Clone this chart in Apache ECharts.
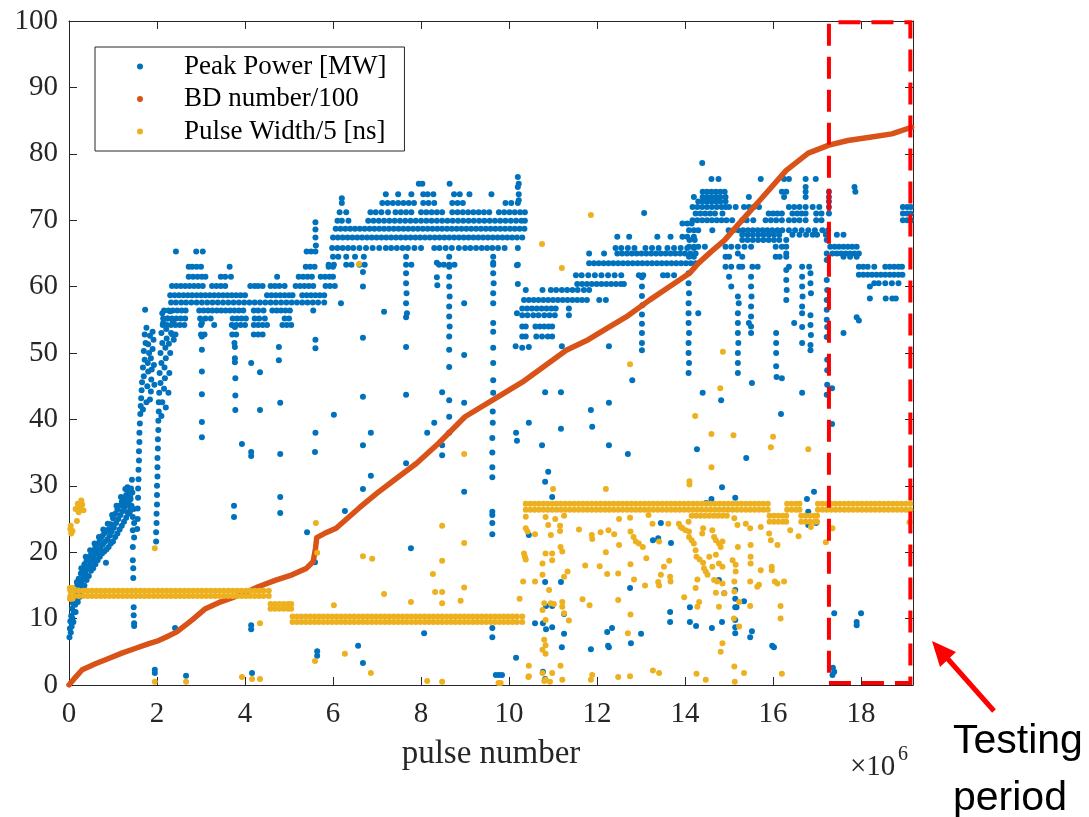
<!DOCTYPE html>
<html>
<head>
<meta charset="utf-8">
<script src="https://cdn.jsdelivr.net/npm/echarts@6/dist/echarts.min.js"></script>
<style>
html,body{margin:0;padding:0;background:#fff;}
#chart{width:1089px;height:817px;}
</style>
</head>
<body>
<div id="chart"></div>
<script>
// x values are pulse numbers in units of 10^6

// Peak power [MW], dense horizontal rows: [level, x, x, ...]
const powerRows = [
  [65.3, 2.43, 2.89, 3.04, 5.4, 5.5, 5.6],
  [63.0, 2.72, 2.8, 2.9, 3.0, 3.65, 5.38, 5.48, 5.58, 5.9, 6.0],
  [61.5, 2.72, 2.82, 2.92, 3.02, 3.1, 3.45, 3.55, 3.68, 4.73, 5.22, 5.32, 5.42, 5.52, 5.72, 5.82, 5.92, 6.0],
  [60.1, 2.34, 2.44, 2.54, 2.64, 2.74, 2.84, 2.94, 3.04, 3.25, 3.35, 3.45, 3.55, 4.12, 4.22, 4.3, 4.4, 4.58, 4.68, 4.78, 4.9, 5.15, 5.25, 5.35, 5.45, 5.55, 5.83, 5.93, 6.04],
  [58.7, 2.3, 2.4, 2.5, 2.6, 2.7, 2.8, 2.9, 3.0, 3.1, 3.2, 3.3, 3.4, 3.5, 3.6, 3.7, 3.8, 3.9, 4.0, 4.5, 4.6, 4.7, 4.8, 4.9, 5.0, 5.08, 5.3, 5.4, 5.5, 5.6, 5.7, 5.8],
  [57.6, 2.32, 2.43, 2.55, 2.66, 2.78, 2.9, 3.02, 3.14, 3.26, 3.38, 3.5, 3.62, 3.74, 3.86, 3.98, 4.1, 4.22, 4.34, 4.46, 4.58, 4.7, 4.82, 4.94, 5.06, 5.18, 5.3, 5.42, 5.54, 5.66, 5.8],
  [56.4, 2.16, 2.26, 2.36, 2.46, 2.56, 2.65, 2.96, 3.06, 3.16, 3.26, 3.36, 3.46, 3.56, 3.66, 3.76, 3.86, 3.96, 4.2, 4.3, 4.42, 4.62, 4.72, 4.82, 4.92, 5.02, 5.55],
  [55.2, 2.14, 2.24, 2.34, 2.44, 2.54, 2.64, 2.98, 3.1, 3.22, 3.72, 3.82, 3.92, 4.02, 4.22, 4.32, 4.45, 4.9, 5.0],
  [54.2, 2.13, 2.22, 2.32, 2.42, 2.52, 2.62, 3.0, 3.3, 3.7, 3.8, 3.9, 4.0, 4.2, 4.3, 4.4, 4.5, 4.85, 4.95, 5.05],
  [52.8, 2.35, 2.42, 3.0, 3.08, 3.71, 3.8, 4.2, 4.3, 4.4],

  [75.5, 7.95, 8.03, 8.65, 10.22],
  [73.9, 7.2, 7.48, 7.78, 8.05, 8.15, 8.28, 8.75, 8.88, 9.1, 9.6, 10.22],
  [72.6, 6.2, 7.12, 7.24, 7.36, 7.48, 7.6, 7.72, 7.84, 8.05, 8.17, 8.3, 8.71, 8.83, 8.95, 9.92, 10.05, 10.2],
  [71.2, 6.15, 6.3, 6.85, 6.97, 7.1, 7.25, 7.42, 7.54, 7.66, 7.78, 8.0, 8.12, 8.24, 8.36, 8.48, 8.71, 8.83, 8.95, 9.07, 9.19, 9.31, 9.43, 9.55, 9.77, 9.89, 10.01, 10.13, 10.25, 10.36],
  [69.9, 6.1, 6.2, 6.35, 6.8, 6.92, 7.04, 7.16, 7.28, 7.4, 7.52, 7.64, 7.76, 7.88, 8.0, 8.12, 8.24, 8.36, 8.48, 8.6, 8.72, 8.84, 8.96, 9.08, 9.2, 9.32, 9.44, 9.56, 9.68, 9.8, 9.92, 10.04, 10.16, 10.28, 10.36],
  [68.7, 6.06, 6.17, 6.28, 6.39, 6.5, 6.61, 6.72, 6.83, 6.94, 7.05, 7.16, 7.27, 7.38, 7.49, 7.6, 7.71, 7.82, 7.93, 8.04, 8.15, 8.26, 8.37, 8.48, 8.59, 8.7, 8.81, 8.92, 9.03, 9.14, 9.25, 9.36, 9.47, 9.58, 9.69, 9.8, 9.91, 10.02, 10.13, 10.24, 10.35],
  [67.4, 6.0, 6.11, 6.22, 6.33, 6.44, 6.55, 6.66, 6.77, 6.88, 6.99, 7.1, 7.21, 7.32, 7.43, 7.54, 7.65, 7.76, 7.87, 7.98, 8.09, 8.2, 8.31, 8.42, 8.53, 8.64, 8.75, 8.86, 8.97, 9.08, 9.19, 9.3, 9.41, 9.52, 9.63, 9.74, 9.85, 9.96, 10.07, 10.18, 10.3],
  [65.8, 5.98, 6.1, 6.22, 6.34, 6.46, 6.6, 6.75, 6.9, 7.05, 7.2, 7.32, 7.45, 7.58, 7.7, 7.85, 8.0, 8.3, 8.42, 8.56, 8.7, 8.86, 9.0, 9.12, 9.25, 9.38, 9.5, 9.62, 9.75, 9.9, 10.2],
  [64.5, 6.0, 6.12, 6.3, 6.5, 6.7, 7.66, 8.64, 9.64],
  [63.3, 5.9, 6.02, 6.3, 6.42, 6.6, 6.72, 7.66, 7.78, 8.41, 8.52, 8.64, 8.76, 9.64, 10.2],

  [69.5, 13.94, 14.05, 14.15],
  [67.5, 12.46, 12.73, 13.37, 13.67, 13.94, 14.05, 14.2],
  [65.8, 12.42, 12.55, 12.7, 12.85, 13.1, 13.25, 13.4, 13.6, 13.75, 13.9, 14.05, 14.2],
  [65.0, 11.82, 12.16, 12.46, 12.57, 12.68, 12.79, 12.9, 13.01, 13.12, 13.23, 13.34, 13.45, 13.56, 13.67, 13.78, 13.89, 14.0, 14.12, 14.24],
  [63.5, 11.82, 11.93, 12.04, 12.15, 12.26, 12.37, 12.48, 12.59, 12.7, 12.81, 12.92, 13.03, 13.14, 13.25, 13.36, 13.47, 13.58, 13.69, 13.8, 13.91, 14.02, 14.13, 14.24],
  [61.7, 11.52, 11.65, 11.8, 11.95, 12.1, 12.25, 12.4, 12.55, 12.95, 13.05, 13.5, 13.6, 13.75],
  [60.4, 10.2, 11.55, 11.66, 11.77, 11.88, 11.99, 12.1, 12.21, 12.32, 12.43, 12.54, 12.61],
  [59.5, 10.38, 10.76, 10.95, 11.07, 11.2, 11.32, 11.44, 11.56, 11.7, 11.82],
  [58.0, 10.34, 10.45, 10.56, 10.67, 10.78, 10.89, 11.0, 11.11, 11.22, 11.33, 11.44, 11.55, 11.66, 11.77, 12.05, 12.2],
  [56.7, 10.3, 10.41, 10.52, 10.63, 10.74, 10.85, 10.96, 11.06, 11.36],
  [55.7, 10.3, 10.42, 10.55, 10.67, 10.8, 10.92, 11.04, 11.36],
  [54.0, 10.3, 10.38, 10.6, 10.7, 10.8, 10.9, 10.98],
  [52.5, 10.3, 10.38, 10.62, 10.75, 10.88, 10.98],

  [78.6, 14.39],
  [76.2, 14.6, 14.76, 15.72, 16.25, 16.36, 16.74, 16.97],
  [75.0, 16.74, 17.85],
  [74.3, 14.4, 14.5, 14.6, 14.7, 14.8, 14.9, 16.2, 16.3, 16.74, 17.27, 17.87],
  [73.5, 14.2, 14.4, 14.5, 14.6, 14.7, 14.8, 14.92, 15.45, 16.25, 16.74, 17.27],
  [72.8, 14.3, 14.4, 14.5, 14.6, 14.7, 14.8, 14.92, 17.27],
  [72.0, 14.17, 14.28, 14.39, 14.5, 14.61, 14.72, 14.83, 14.92, 15.0, 15.15, 15.34, 15.45, 15.56, 15.68, 16.36, 16.48, 16.6, 16.74, 16.9, 17.05, 17.27, 18.95, 19.05, 19.13],
  [71.0, 14.24, 14.35, 14.46, 14.57, 14.68, 14.85, 15.9, 16.0, 16.1, 16.2, 16.44, 16.55, 16.65, 16.74, 16.98, 17.1, 17.27, 18.95, 19.05, 19.13],
  [70.0, 14.17, 14.28, 14.39, 14.5, 14.61, 14.72, 14.83, 14.94, 15.07, 15.3, 15.4, 15.55, 15.83, 15.95, 16.07, 16.2, 16.36, 16.48, 16.6, 16.74, 16.98, 17.1, 18.95, 19.05, 19.13],
  [68.5, 14.09, 14.2, 14.3, 14.62, 14.99, 15.1, 15.21, 15.32, 15.43, 15.54, 15.65, 15.76, 15.87, 15.98, 16.1, 16.21, 16.36, 16.5, 16.65, 16.8, 16.95, 17.12, 17.25],
  [67.8, 15.3, 15.42, 15.54, 15.66, 15.78, 15.9, 16.02, 16.14, 16.44, 16.6, 16.75, 16.9, 17.0, 17.2, 17.45, 17.6],
  [67.0, 14.1, 14.22, 15.3, 15.42, 15.54, 15.66, 15.78, 15.9, 16.02, 16.14, 16.3, 17.22],
  [66.0, 14.09, 14.2, 14.3, 14.45, 14.92, 15.05, 15.2, 15.35, 15.5, 16.06, 16.2, 16.3, 17.3, 17.4, 17.5, 17.6, 17.7, 17.8, 17.9],
  [65.0, 15.2, 16.3, 17.22, 17.35, 17.45, 17.55, 17.65, 17.75, 17.85, 17.95],
  [64.5, 14.09, 14.2, 14.92, 15.0, 15.3, 16.06, 16.15, 16.3, 17.6, 17.75, 17.9],
  [63.0, 14.92, 15.05, 15.23, 15.3, 15.53, 15.65, 16.36, 16.66, 16.82, 17.95, 18.05, 18.15, 18.3, 18.55, 18.65, 18.75, 18.85, 18.93],
  [61.8, 17.95, 18.05, 18.15, 18.25, 18.35, 18.45, 18.55, 18.65, 18.75, 18.85, 18.94],
  [60.5, 18.3, 18.4, 18.55, 18.7, 18.85],
  [58.2, 18.2, 18.56, 18.71, 18.79]
];

// Peak power [MW], conditioning ramp at the start: [x, y]
const powerRamp = [
  [0.01, 7.2], [0.02, 8.5], [0.03, 9.6], [0.04, 7.9], [0.05, 10.4], [0.06, 8.8], [0.07, 11.5], [0.08, 10.0], [0.09, 12.3],
  [0.11, 10.9], [0.12, 13.2], [0.14, 12.1], [0.15, 14.0], [0.17, 13.0], [0.19, 15.1], [0.2, 14.2], [0.22, 16.0], [0.23, 13.8],
  [0.25, 15.1], [0.27, 16.8], [0.29, 15.7], [0.3, 14.6], [0.31, 17.5], [0.33, 16.4], [0.35, 18.2], [0.37, 17.0], [0.4, 18.7], [0.4, 15.8], [0.42, 17.6], [0.44, 19.2],
  [0.47, 18.0], [0.5, 19.6], [0.5, 17.2], [0.52, 18.6], [0.55, 20.2], [0.57, 19.1], [0.6, 20.7], [0.6, 18.2], [0.62, 19.8], [0.65, 21.3], [0.67, 20.3],
  [0.7, 21.9], [0.7, 19.3], [0.72, 20.6], [0.75, 22.4], [0.77, 21.2], [0.8, 22.8], [0.8, 20.1], [0.82, 21.6], [0.84, 18.4], [0.85, 23.2], [0.88, 22.0], [0.9, 23.4], [0.9, 20.8],
  [0.93, 22.5], [0.95, 24.2], [0.97, 23.1], [1.0, 25.1], [1.0, 21.6], [1.02, 23.7], [1.05, 25.8], [1.07, 24.4], [1.1, 26.4], [1.1, 22.8], [1.12, 25.0],
  [1.15, 27.0], [1.17, 25.6], [1.2, 27.6], [1.2, 24.0], [1.22, 26.2], [1.25, 28.2], [1.25, 27.0], [1.27, 26.8], [1.3, 28.6], [1.3, 25.2], [1.3, 27.8], [1.32, 27.2],
  [1.33, 26.0], [1.35, 28.9], [1.36, 29.2], [1.37, 27.8], [1.38, 26.0], [1.39, 28.4], [1.4, 28.0], [1.42, 27.0], [1.43, 30.9], [1.44, 29.0],
  [0.1, 9.5], [0.1, 12.8], [0.15, 11.0], [0.18, 15.5], [0.2, 12.5], [0.25, 13.3], [0.28, 17.6], [0.35, 15.0], [0.38, 19.3], [0.45, 16.4], [0.48, 20.3],
  [0.55, 17.6], [0.58, 21.3], [0.65, 18.8], [0.68, 22.3], [0.75, 19.8], [0.78, 23.4], [0.85, 20.4], [0.88, 24.3], [0.95, 21.3], [0.98, 25.6],
  [1.05, 22.3], [1.08, 27.0], [1.15, 23.4], [1.18, 28.3], [1.25, 24.6], [1.28, 29.5], [1.35, 25.8], [1.4, 26.5], [1.33, 29.8], [1.41, 29.6]
];

// Peak power [MW], vertical streaks and isolated pulses: [x, y]
const powerDots = [
  [1.45, 25.3], [1.45, 23.3], [1.45, 20.8], [1.45, 18.8], [1.46, 17.6], [1.46, 16.1], [1.47, 11.7], [1.47, 10.5], [1.48, 9.3], [1.48, 8.9], [1.47, 26.5], [1.48, 24.4], [1.48, 22.2],
  [1.55, 23.5], [1.56, 25.0], [1.56, 26.6], [1.57, 28.2], [1.57, 29.6], [1.58, 31.0], [1.58, 32.4], [1.59, 33.8], [1.59, 35.2], [1.6, 36.6], [1.6, 38.0], [1.61, 39.4], [1.62, 40.8], [1.63, 42.0], [1.64, 43.2], [1.65, 44.4], [1.66, 45.6],
  [1.7, 46.5], [1.68, 47.8], [1.72, 49.0], [1.7, 50.3], [1.74, 51.5], [1.72, 52.8], [1.76, 53.8], [1.78, 45.0], [1.8, 47.2], [1.79, 48.5], [1.82, 50.0], [1.8, 51.3], [1.84, 52.6],
  [1.86, 44.2], [1.87, 46.0], [1.88, 47.5], [1.86, 49.2], [1.9, 50.6], [1.92, 52.0], [1.9, 53.2], [1.93, 48.2], [1.94, 45.2], [1.73, 56.5], [1.84, 43.0], [1.76, 42.6], [1.68, 41.5],
  [1.98, 21.6], [1.98, 23.0], [1.99, 24.4], [1.99, 25.8], [2.0, 27.2], [2.0, 28.6], [2.0, 30.0], [2.01, 31.4], [2.01, 32.8], [2.01, 34.2], [2.02, 35.6], [2.02, 37.0], [2.03, 38.4], [2.03, 39.8], [2.04, 41.2], [2.04, 42.6],
  [2.05, 44.0], [2.08, 45.5], [2.06, 47.0], [2.1, 48.5], [2.08, 50.0], [2.12, 51.5], [2.1, 53.0], [2.14, 54.5], [2.12, 56.0], [2.16, 44.6], [2.18, 46.2], [2.17, 47.8], [2.2, 49.2],
  [2.19, 50.8], [2.22, 52.2], [2.21, 53.6], [2.24, 55.2], [2.26, 44.0], [2.28, 47.0], [2.3, 50.0], [2.27, 51.4], [2.32, 53.0], [2.3, 56.3], [2.36, 54.8], [2.38, 52.0], [2.12, 42.6], [2.2, 41.8], [2.1, 40.5],
  [3.02, 54.5], [3.02, 52.5], [3.02, 50.5], [3.02, 47.2], [3.02, 43.8], [3.02, 39.6], [3.02, 37.3],
  [3.77, 53.9], [3.76, 51.5], [3.77, 50.9], [3.77, 49.2], [3.77, 48.6], [3.78, 46.2], [3.78, 43.6], [3.78, 41.4], [3.75, 27.0], [3.75, 25.3],
  [4.14, 48.5], [4.34, 47.1], [4.34, 41.4], [4.77, 50.9], [4.77, 48.9], [4.8, 42.5], [4.8, 34.8], [4.8, 28.3], [4.8, 25.9], [3.93, 36.3], [4.14, 35.1], [4.14, 34.5],
  [4.14, 9.0], [4.14, 8.4], [4.16, 1.8], [2.41, 8.6], [1.95, 2.3], [1.95, 1.8], [2.66, 1.4],
  [5.6, 69.7], [5.6, 68.6], [5.6, 67.4], [5.61, 66.2], [5.6, 52.0], [5.6, 50.7], [5.6, 38.0], [5.59, 35.1], [5.41, 23.0], [5.59, 18.5], [5.64, 5.1], [5.64, 4.4],
  [6.2, 73.3], [6.02, 40.7], [6.18, 57.5], [6.27, 26.2],
  [6.68, 62.2], [6.68, 60.0], [6.68, 52.3], [6.68, 43.4], [6.68, 36.1], [6.68, 29.5], [6.68, 3.3], [6.57, 5.9], [6.86, 38.0], [6.86, 31.5],
  [7.66, 62.0], [7.66, 60.5], [7.67, 59.0], [7.66, 57.5], [7.68, 56.0], [7.66, 55.4], [7.66, 50.9], [7.66, 43.7], [7.66, 33.4], [7.16, 56.2], [7.77, 20.6], [8.07, 7.8],
  [8.36, 63.6], [8.36, 61.4], [8.37, 60.2], [8.14, 38.0], [8.3, 39.5], [8.48, 44.1], [8.48, 36.1], [8.48, 34.6],
  [8.64, 63.0], [8.64, 61.5], [8.64, 60.0], [8.65, 58.5], [8.64, 57.0], [8.64, 55.5], [8.65, 54.0], [8.64, 52.5], [8.64, 50.5], [8.64, 47.9], [8.64, 42.9], [8.64, 40.4], [8.64, 38.0],
  [8.98, 57.5], [8.98, 49.7], [8.98, 42.5], [8.98, 29.1],
  [9.64, 63.6], [9.64, 62.0], [9.65, 60.5], [9.64, 59.0], [9.64, 57.5], [9.64, 54.5], [9.64, 53.2], [9.64, 50.8], [9.64, 48.5], [9.64, 45.9], [9.64, 44.0], [9.63, 41.2],
  [9.63, 39.5], [9.62, 37.2], [9.62, 35.0], [9.62, 32.8], [9.62, 31.3], [9.62, 26.1], [9.62, 25.6], [9.62, 24.4], [9.62, 22.7], [9.62, 8.6], [9.62, 7.2],
  [10.2, 76.5], [10.2, 75.0], [10.22, 73.0], [10.18, 63.2], [10.18, 56.0], [10.15, 51.0], [10.16, 38.0], [10.18, 36.8], [10.16, 4.1],
  [9.7, 1.5], [9.77, 1.5], [9.84, 1.5],
  [10.45, 50.9], [10.3, 50.8], [11.18, 44.1], [10.82, 44.1], [10.45, 39.5], [10.75, 36.1], [11.18, 38.6], [10.89, 32.1], [10.82, 30.6], [10.98, 28.3], [11.2, 51.0], [12.27, 51.0],
  [11.86, 41.4], [11.89, 38.9], [12.27, 42.5], [12.27, 36.1], [12.8, 45.9], [13.07, 71.1], [12.7, 34.8],
  [13.02, 61.4], [13.02, 60.0], [13.02, 58.6], [13.03, 57.2], [13.02, 55.8], [13.02, 54.4], [13.02, 53.0], [13.02, 51.5], [13.02, 50.4],
  [14.08, 62.0], [14.08, 60.5], [14.09, 59.0], [14.08, 57.5], [14.08, 56.0], [14.08, 54.5], [14.09, 53.0], [14.08, 51.5], [14.08, 50.0], [14.09, 48.5], [14.08, 47.0],
  [15.0, 61.5], [15.05, 60.0], [15.2, 58.5], [15.22, 57.5], [15.2, 56.0], [15.2, 54.5], [15.2, 53.0], [15.21, 51.5], [15.2, 50.0], [15.2, 48.5], [15.2, 47.0],
  [15.5, 61.5], [15.5, 60.0], [15.51, 58.5], [15.5, 57.0], [15.5, 55.5], [15.5, 54.0], [15.5, 53.0],
  [16.07, 53.0], [16.07, 51.5], [16.07, 50.0], [16.07, 48.0], [16.08, 46.4],
  [16.3, 62.5], [16.3, 61.0], [16.31, 59.5], [16.3, 58.0],
  [16.66, 61.5], [16.66, 60.0], [16.67, 58.5], [16.66, 57.0], [16.66, 56.0], [16.66, 53.9], [16.66, 51.5], [16.66, 44.0],
  [16.85, 62.0], [16.85, 60.5], [16.86, 59.0], [16.85, 55.7], [16.85, 54.2], [16.86, 52.7], [16.85, 51.2], [16.85, 50.4],
  [17.22, 64.0], [17.22, 61.0], [17.23, 59.5], [17.22, 58.0], [17.22, 56.5], [17.22, 55.0], [17.23, 53.9], [17.22, 52.4], [17.23, 49.0], [17.23, 47.4], [17.23, 45.2], [17.22, 43.7],
  [16.48, 54.5], [17.6, 53.0], [17.34, 44.7], [17.34, 39.3], [16.2, 46.2], [15.52, 45.5], [14.3, 56.0], [15.45, 54.5], [14.82, 42.9], [14.4, 44.0], [15.39, 34.2],
  [17.9, 55.4], [17.95, 54.9], [18.2, 60.0],
  [14.27, 35.5], [14.84, 29.8], [16.18, 40.8], [16.93, 29.1], [16.77, 28.0], [16.8, 26.1], [16.8, 24.1], [14.48, 27.4], [14.6, 28.0], [15.14, 28.2], [16.98, 24.4],
  [10.45, 22.6], [10.82, 15.5], [11.18, 15.5], [10.84, 11.9], [10.98, 11.9], [10.59, 9.3], [10.77, 9.3], [10.84, 8.4], [10.98, 8.7], [11.25, 10.7], [11.25, 7.7], [11.2, 5.7],
  [10.77, 2.0], [10.82, 0.9], [12.23, 8.0], [12.34, 8.6], [12.25, 5.9], [11.86, 5.4], [12.75, 14.6], [12.77, 6.3], [13.0, 7.7], [12.27, 5.7],
  [13.27, 21.8], [13.39, 22.1], [13.45, 24.4], [13.68, 21.4], [13.66, 11.0], [13.66, 9.5], [14.11, 11.7], [14.11, 9.5], [14.25, 8.9], [14.61, 8.6],
  [14.77, 15.8], [14.84, 9.5], [14.89, 13.8], [15.14, 14.3], [15.14, 13.0], [15.14, 11.7], [15.17, 11.7], [15.14, 9.8], [15.14, 8.7], [15.14, 7.8],
  [15.34, 12.6], [15.52, 8.1], [15.48, 7.2], [15.98, 5.9], [16.02, 5.7],
  [17.39, 10.8], [17.9, 9.5], [18.0, 10.8], [17.9, 9.0], [17.39, 2.0], [17.36, 2.6], [17.35, 1.5]
];

// Cumulative breakdown count / 100
const bdCurve = [
  [0, 0], [0.15, 1.2], [0.3, 2.3], [0.6, 3.2], [0.9, 4.0], [1.2, 4.8], [1.5, 5.5], [1.8, 6.2], [2.0, 6.6], [2.2, 7.2], [2.45, 8.0],
  [2.8, 9.8], [3.1, 11.5], [3.4, 12.4], [3.7, 13.1], [4.0, 13.9], [4.3, 14.8], [4.7, 15.8], [5.07, 16.6], [5.4, 17.6], [5.55, 18.6],
  [5.6, 20.5], [5.63, 22.2], [5.8, 22.8], [6.07, 23.6], [6.6, 26.7], [7.0, 28.9], [7.34, 30.6], [7.9, 33.4], [8.4, 36.4], [9.0, 40.4],
  [9.7, 43.2], [10.3, 45.6], [10.8, 48.0], [11.3, 50.4], [11.8, 52.0], [12.27, 53.9], [12.7, 55.6], [13.2, 58.0], [13.6, 59.8], [14.1, 62.0],
  [14.3, 63.5], [14.6, 65.3], [14.9, 67.0], [15.2, 69.3], [15.7, 73.0], [16.3, 77.5], [16.8, 80.1], [17.27, 81.3], [17.7, 82.0],
  [18.2, 82.5], [18.7, 83.0], [19.15, 84.0]
];

// Pulse width / 5 [ns], flat settings: [[levels], [x positions]]
const widthBands = [
  [[13.4, 14.2], [0.03, 0.12, 0.22, 0.32, 0.42, 0.52, 0.62, 0.72, 0.82, 0.92, 1.02, 1.12, 1.22, 1.32, 1.42, 1.52, 1.62, 1.72, 1.82, 1.92, 2.02, 2.12, 2.22,
    2.32, 2.42, 2.52, 2.62, 2.72, 2.82, 2.92, 3.02, 3.12, 3.22, 3.32, 3.42, 3.52, 3.62, 3.72, 3.82, 3.92, 4.02, 4.12, 4.22, 4.32, 4.42, 4.54]],
  [[11.5, 12.2], [4.58, 4.68, 4.78, 4.88, 4.98, 5.05]],
  [[9.5, 10.3], [5.08, 5.18, 5.28, 5.38, 5.48, 5.58, 5.68, 5.78, 5.88, 5.98, 6.08, 6.18, 6.28, 6.38, 6.48, 6.58, 6.68, 6.78, 6.88, 6.98, 7.08, 7.18, 7.28,
    7.38, 7.48, 7.58, 7.68, 7.78, 7.88, 7.98, 8.08, 8.18, 8.28, 8.38, 8.48, 8.58, 8.68, 8.78, 8.88, 8.98, 9.08, 9.18, 9.28, 9.38, 9.48, 9.58, 9.68,
    9.78, 9.88, 9.98, 10.08, 10.18, 10.3]],
  [[26.4, 27.3], [10.38, 10.48, 10.58, 10.68, 10.78, 10.88, 10.98, 11.08, 11.18, 11.28, 11.38, 11.48, 11.58, 11.68, 11.78, 11.88, 11.98, 12.08, 12.18,
    12.28, 12.38, 12.48, 12.58, 12.68, 12.78, 12.88, 12.98, 13.08, 13.18, 13.28, 13.38, 13.48, 13.58, 13.68, 13.78, 13.88, 13.98, 14.08, 14.18,
    14.28, 14.38, 14.48, 14.58, 14.68, 14.78, 14.88, 14.98, 15.08, 15.18, 15.28, 15.38, 15.48, 15.58, 15.68, 15.78, 15.88, 16.32, 16.42, 16.52,
    16.6, 17.02, 17.12, 17.22, 17.32, 17.42, 17.52, 17.62, 17.72, 17.82, 17.92, 18.02, 18.12, 18.22, 18.32, 18.42, 18.52, 18.62, 18.72, 18.82,
    18.92, 19.02, 19.12]],
  [[24.6, 25.5], [15.92, 16.02, 16.12, 16.22, 16.3, 16.64, 16.74, 16.84, 16.94, 17.0]],
  [[25.5], [14.15, 14.25, 14.35, 14.45, 14.55, 14.65, 14.75, 14.85, 14.95]]
];

// Pulse width / 5 [ns], scattered pulses: [x, y]
const widthDots = [
  [0.02, 13.0], [0.02, 14.6], [0.08, 13.0], [0.08, 14.6],
  [0.03, 23.5], [0.05, 22.8], [0.08, 23.2], [0.04, 24.0], [0.18, 24.7], [0.15, 26.5], [0.2, 27.3], [0.25, 26.7], [0.3, 27.2], [0.33, 26.3], [0.22, 26.0], [0.28, 27.8],
  [1.95, 20.6], [1.95, 0.5], [2.66, 0.5], [3.93, 1.2], [4.16, 0.9], [4.34, 0.9], [4.34, 9.3], [5.59, 3.6], [5.61, 24.4], [5.64, 19.9],
  [6.02, 12.0], [6.27, 4.7], [6.59, 63.4], [6.68, 19.4], [6.89, 19.0], [6.86, 1.8], [7.16, 13.7], [7.77, 12.5], [8.14, 0.6],
  [8.27, 16.7], [8.32, 14.0], [8.48, 24.0], [8.48, 18.7], [8.48, 14.0], [8.48, 12.3], [8.48, 0.5],
  [8.98, 34.8], [8.98, 21.4], [8.98, 14.7], [8.9, 12.7], [9.76, 0.3], [9.81, 0.3],
  [10.38, 25.35], [10.38, 23.6], [10.42, 23.1], [10.34, 19.8], [10.36, 19.3], [10.38, 18.9], [10.32, 15.6], [10.24, 13.0], [10.59, 22.7], [10.59, 15.6],
  [10.83, 25.3], [10.89, 24.1], [11.05, 25.0], [11.25, 25.5], [11.16, 24.0], [11.16, 23.2], [10.95, 22.6], [10.83, 19.8], [10.98, 19.8], [10.98, 18.8],
  [11.17, 20.8], [11.21, 20.1], [10.76, 18.3], [10.76, 16.6], [10.91, 14.3], [10.76, 11.3], [10.8, 12.3], [10.95, 12.3], [11.02, 12.2], [11.21, 12.5],
  [11.21, 11.8], [11.25, 10.8], [11.36, 9.7], [11.33, 17.1], [11.25, 16.3], [10.83, 9.8], [10.8, 6.8], [10.83, 6.0], [10.76, 5.3], [10.83, 4.7],
  [10.45, 2.9], [10.45, 1.3], [10.76, 1.8], [10.83, 0.8], [10.98, 1.8], [11.17, 2.9], [11.21, 0.8], [11.59, 23.4], [11.73, 18.0], [11.67, 12.9],
  [11.83, 12.0], [11.88, 22.6], [11.89, 22.0], [12.06, 17.9], [12.08, 23.0], [12.2, 20.0], [12.26, 23.3], [12.23, 16.7], [12.39, 22.7], [12.5, 21.1],
  [12.5, 25.0], [12.48, 16.8], [12.48, 12.8], [12.75, 25.2], [12.76, 23.1], [12.76, 18.2], [12.84, 15.9], [12.76, 10.6], [12.7, 7.8], [12.83, 22.3],
  [12.88, 21.6], [12.95, 21.3], [13.04, 20.8], [13.12, 19.1], [13.09, 15.0], [13.17, 25.6], [13.26, 24.3], [13.41, 21.6], [13.39, 15.5], [13.41, 15.0],
  [13.45, 16.6], [13.52, 17.8], [13.64, 18.7], [13.66, 16.3], [13.67, 15.6], [13.62, 24.3], [13.86, 24.3], [13.9, 23.8], [13.94, 23.6], [14.01, 23.3],
  [13.98, 13.2], [14.08, 24.6], [14.09, 23.1], [14.09, 22.3], [14.15, 21.8], [14.2, 21.3], [14.24, 20.3], [14.26, 19.3], [14.28, 15.9], [14.24, 14.6],
  [14.28, 11.8], [14.32, 12.5], [14.33, 18.9], [14.41, 18.4], [14.43, 17.6], [14.47, 17.1], [14.51, 16.6], [14.55, 19.3], [14.39, 22.8], [14.41, 23.6],
  [14.62, 23.3], [14.66, 22.3], [14.7, 21.8], [14.77, 21.3], [14.81, 20.8], [14.85, 21.6], [14.7, 19.6], [14.77, 18.3], [14.85, 17.8], [14.62, 17.8],
  [14.66, 15.8], [14.73, 15.6], [14.85, 15.3], [14.89, 13.8], [14.7, 13.9], [14.77, 11.8], [14.85, 6.3], [14.81, 5.0], [15.12, 25.1], [15.19, 24.1],
  [15.2, 20.8], [15.08, 18.8], [15.15, 18.1], [15.15, 17.1], [15.12, 15.6], [15.12, 14.1], [15.23, 12.5], [15.11, 10.0], [15.23, 8.8], [15.12, 2.8],
  [15.34, 1.8], [15.13, 0.5], [15.38, 24.3], [15.48, 23.6], [15.49, 21.1], [15.49, 19.3], [15.49, 18.3], [15.48, 15.6], [15.48, 11.9], [15.64, 14.8],
  [15.68, 15.1], [15.72, 23.8], [15.72, 17.3], [15.91, 22.8], [15.95, 21.8], [15.97, 17.8], [15.97, 17.3], [16.1, 21.1], [16.04, 15.6], [16.1, 15.3],
  [16.25, 15.6], [16.17, 11.9], [16.17, 10.0], [16.39, 23.3], [16.58, 22.4], [16.86, 23.8], [10.44, 1.2], [11.89, 1.5], [12.48, 1.2], [12.75, 1.3],
  [13.27, 2.2], [13.41, 1.8], [14.26, 1.7], [14.47, 0.8], [16.2, 1.7], [11.86, 0.8], [10.8, 0.6], [10.93, 0.5],
  [14.86, 50.2], [14.8, 44.7], [14.23, 40.5], [14.6, 37.8], [15.1, 37.6], [16.0, 37.4], [15.95, 35.8], [16.8, 35.5], [14.6, 32.8], [14.1, 30.7], [14.1, 30.2],
  [11.0, 29.5], [12.2, 29.5], [17.35, 23.6], [17.2, 21.5], [19.1, 24.5], [11.86, 70.8], [10.75, 66.4], [11.2, 62.8], [12.75, 48.3]
];

// Testing period shown by the dashed box: [x start, x end]
const testingPeriod = [17.27, 19.12];

const xTickLabels = ['0', '2', '4', '6', '8', '10', '12', '14', '16', '18'];
const yTickLabels = ['0', '10', '20', '30', '40', '50', '60', '70', '80', '90', '100'];

const seriesNames = ['Peak Power [MW]', 'BD number/100', 'Pulse Width/5 [ns]'];
const seriesColors = ['#0072BD', '#D95319', '#EDB120'];

// expand row tables into [x, y] points
const rowsToPoints = rows => rows.flatMap(([y, ...xs]) => xs.map(x => [x, y]));
const bandsToPoints = bands => bands.flatMap(([levels, xs]) => levels.flatMap(y => xs.map(x => [x, y])));

const powerPoints = rowsToPoints(powerRows).concat(powerRamp, powerDots);
const widthPoints = bandsToPoints(widthBands).concat(widthDots);

const serif = '"Liberation Serif", "Times New Roman", serif';
const axisColor = '#262626';

const chart = echarts.init(document.getElementById('chart'), null, { renderer: 'canvas' });

const baseX = {
  type: 'value', min: 0, max: 19.18, interval: 2,
  axisLine: { show: true, onZero: false, lineStyle: { color: axisColor, width: 1 } },
  axisTick: { show: true, inside: true, length: 8, lineStyle: { color: axisColor, width: 1 } },
  splitLine: { show: false }
};
const baseY = {
  type: 'value', min: 0, max: 100, interval: 10,
  axisLine: { show: true, onZero: false, lineStyle: { color: axisColor, width: 1 } },
  axisTick: { show: true, inside: true, length: 8, lineStyle: { color: axisColor, width: 1 } },
  splitLine: { show: false }
};

chart.setOption({
  animation: false,
  backgroundColor: '#ffffff',
  grid: { left: 69, right: 176, top: 21, bottom: 132 },
  legend: {
    orient: 'vertical',
    left: 95, top: 47,
    padding: [6, 18, 6, 42],
    itemGap: 5.5,
    itemWidth: 78,
    itemHeight: 6,
    selectedMode: false,
    backgroundColor: '#ffffff',
    borderColor: axisColor,
    borderWidth: 1,
    textStyle: { fontFamily: serif, fontSize: 27, lineHeight: 27, color: '#000000' },
    data: seriesNames.map(n => ({ name: n, icon: 'circle' }))
  },
  xAxis: [
    Object.assign({}, baseX, {
      position: 'bottom',
      name: 'pulse number',
      nameLocation: 'middle',
      nameGap: 53,
      nameTextStyle: { fontFamily: serif, fontSize: 33, color: axisColor },
      axisLabel: {
        margin: 15, fontFamily: serif, fontSize: 29, color: axisColor,
        formatter: v => {
          const i = Math.round(v / 2);
          return Math.abs(v - i * 2) < 1e-6 && xTickLabels[i] !== undefined ? xTickLabels[i] : '';
        }
      }
    }),
    Object.assign({}, baseX, { position: 'top', axisLabel: { show: false } })
  ],
  yAxis: [
    Object.assign({}, baseY, {
      position: 'left',
      axisLabel: {
        margin: 11, fontFamily: serif, fontSize: 29, color: axisColor,
        formatter: v => yTickLabels[Math.round(v / 10)]
      }
    }),
    Object.assign({}, baseY, { position: 'right', axisLabel: { show: false } })
  ],
  series: [
    {
      name: seriesNames[0], type: 'scatter', xAxisIndex: 0, yAxisIndex: 0,
      data: powerPoints, symbolSize: 6, silent: true, z: 2,
      itemStyle: { color: seriesColors[0], opacity: 1 }
    },
    {
      name: seriesNames[1], type: 'line', xAxisIndex: 0, yAxisIndex: 0,
      data: bdCurve, showSymbol: false, silent: true, z: 3, smooth: false,
      lineStyle: { color: seriesColors[1], width: 5.5, cap: 'round', join: 'round' },
      itemStyle: { color: seriesColors[1] }
    },
    {
      name: seriesNames[2], type: 'scatter', xAxisIndex: 0, yAxisIndex: 0,
      data: widthPoints, symbolSize: 6, silent: true, z: 4,
      itemStyle: { color: seriesColors[2], opacity: 1 },
      markArea: {
        silent: true,
        z: 10,
        itemStyle: { color: 'rgba(0,0,0,0)', borderColor: '#FF0000', borderWidth: 4, borderType: [22, 11] },
        data: [[{ xAxis: testingPeriod[0], yAxis: 0.3 }, { xAxis: testingPeriod[1], yAxis: 99.8 }]]
      }
    }
  ],
  graphic: [
    { type: 'text', style: { x: 850, y: 767, text: '×10', fontFamily: serif, fontSize: 29, fill: axisColor, align: 'left', verticalAlign: 'middle' } },
    { type: 'text', style: { x: 898, y: 755, text: '6', fontFamily: serif, fontSize: 20, fill: axisColor, align: 'left', verticalAlign: 'middle' } },
    { type: 'line', shape: { x1: 994, y1: 711, x2: 947, y2: 658 }, style: { stroke: '#FF0000', lineWidth: 5 } },
    { type: 'polygon', shape: { points: [[932, 641], [956, 652], [940, 667]] }, style: { fill: '#FF0000' } },
    { type: 'text', style: { x: 953, y: 742, text: 'Testing', fontFamily: '"Liberation Sans", Arial, sans-serif', fontSize: 41, fill: '#000000', align: 'left', verticalAlign: 'middle' } },
    { type: 'text', style: { x: 953, y: 799, text: 'period', fontFamily: '"Liberation Sans", Arial, sans-serif', fontSize: 41, fill: '#000000', align: 'left', verticalAlign: 'middle' } }
  ]
});
</script>
</body>
</html>
